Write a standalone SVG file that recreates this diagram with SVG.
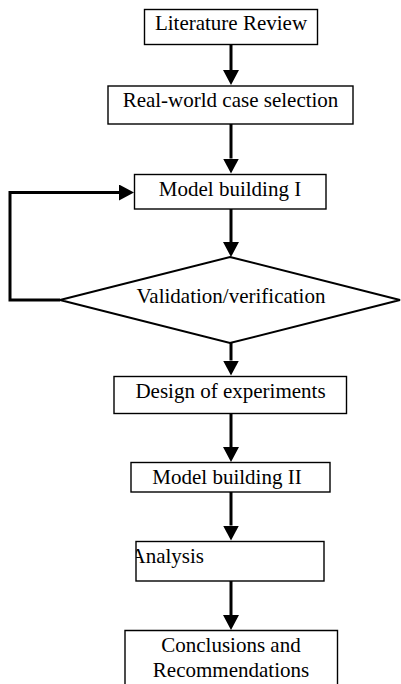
<svg xmlns="http://www.w3.org/2000/svg" width="401" height="684" viewBox="0 0 401 684">
  <style>
    .box { fill: #fff; stroke: #000; stroke-width: 1.4; }
    .dia { fill: #fff; stroke: #000; stroke-width: 2; }
    .lbl { font-family: "Liberation Serif", "Times New Roman", serif; font-size: 21px; fill: #000; text-anchor: middle; }
    .flow { fill: none; stroke: #000; stroke-width: 3; marker-end: url(#head); }
  </style>
  <defs>
    <marker id="head" markerUnits="userSpaceOnUse" markerWidth="16" markerHeight="16" refX="0" refY="8" orient="auto" viewBox="0 0 16 16">
      <path d="M0,0 L15,8 L0,16 z" fill="#000"/>
    </marker>
    <clipPath id="analysisClip">
      <rect x="136" y="541" width="188" height="40"/>
    </clipPath>
  </defs>
  <rect width="401" height="684" fill="#fff"/>

  <g id="connectors">
    <path class="flow" d="M231,44.5 V70"/>
    <path class="flow" d="M231,124 V158.5"/>
    <path class="flow" d="M231,209 V242"/>
    <path class="flow" d="M231,343 V360.5"/>
    <path class="flow" d="M231,413.5 V447"/>
    <path class="flow" d="M231,492 V525.5"/>
    <path class="flow" d="M231,581 V615"/>
    <path class="flow" d="M60,300 H10 V192.5 H119"/>
  </g>

  <g id="literature-review">
    <rect class="box" x="144.5" y="9.5" width="173" height="35"/>
    <text class="lbl" x="231" y="30">Literature Review</text>
  </g>

  <g id="case-selection">
    <rect class="box" x="108" y="86" width="245" height="38"/>
    <text class="lbl" x="230.5" y="107">Real-world case selection</text>
  </g>

  <g id="model-building-1">
    <rect class="box" x="134.5" y="174.5" width="191.5" height="34.5"/>
    <text class="lbl" x="230" y="196">Model building I</text>
  </g>

  <g id="validation">
    <polygon class="dia" points="230,257 400,300 230,343 60,300"/>
    <text class="lbl" x="231" y="303">Validation/verification</text>
  </g>

  <g id="design-of-experiments">
    <rect class="box" x="114" y="376.5" width="232.5" height="37"/>
    <text class="lbl" x="230.5" y="398">Design of experiments</text>
  </g>

  <g id="model-building-2">
    <rect class="box" x="131" y="462.5" width="199" height="29.5"/>
    <text class="lbl" x="227" y="484">Model building II</text>
  </g>

  <g id="analysis">
    <rect class="box" x="136" y="541.5" width="188" height="39.5"/>
    <text class="lbl" x="130.5" y="563" style="text-anchor:start" clip-path="url(#analysisClip)">Analysis</text>
  </g>

  <g id="conclusions">
    <path class="box" d="M125,690 V630.5 H337.5 V690"/>
    <text class="lbl" x="231" y="652">Conclusions and</text>
    <text class="lbl" x="231" y="677">Recommendations</text>
  </g>
</svg>
